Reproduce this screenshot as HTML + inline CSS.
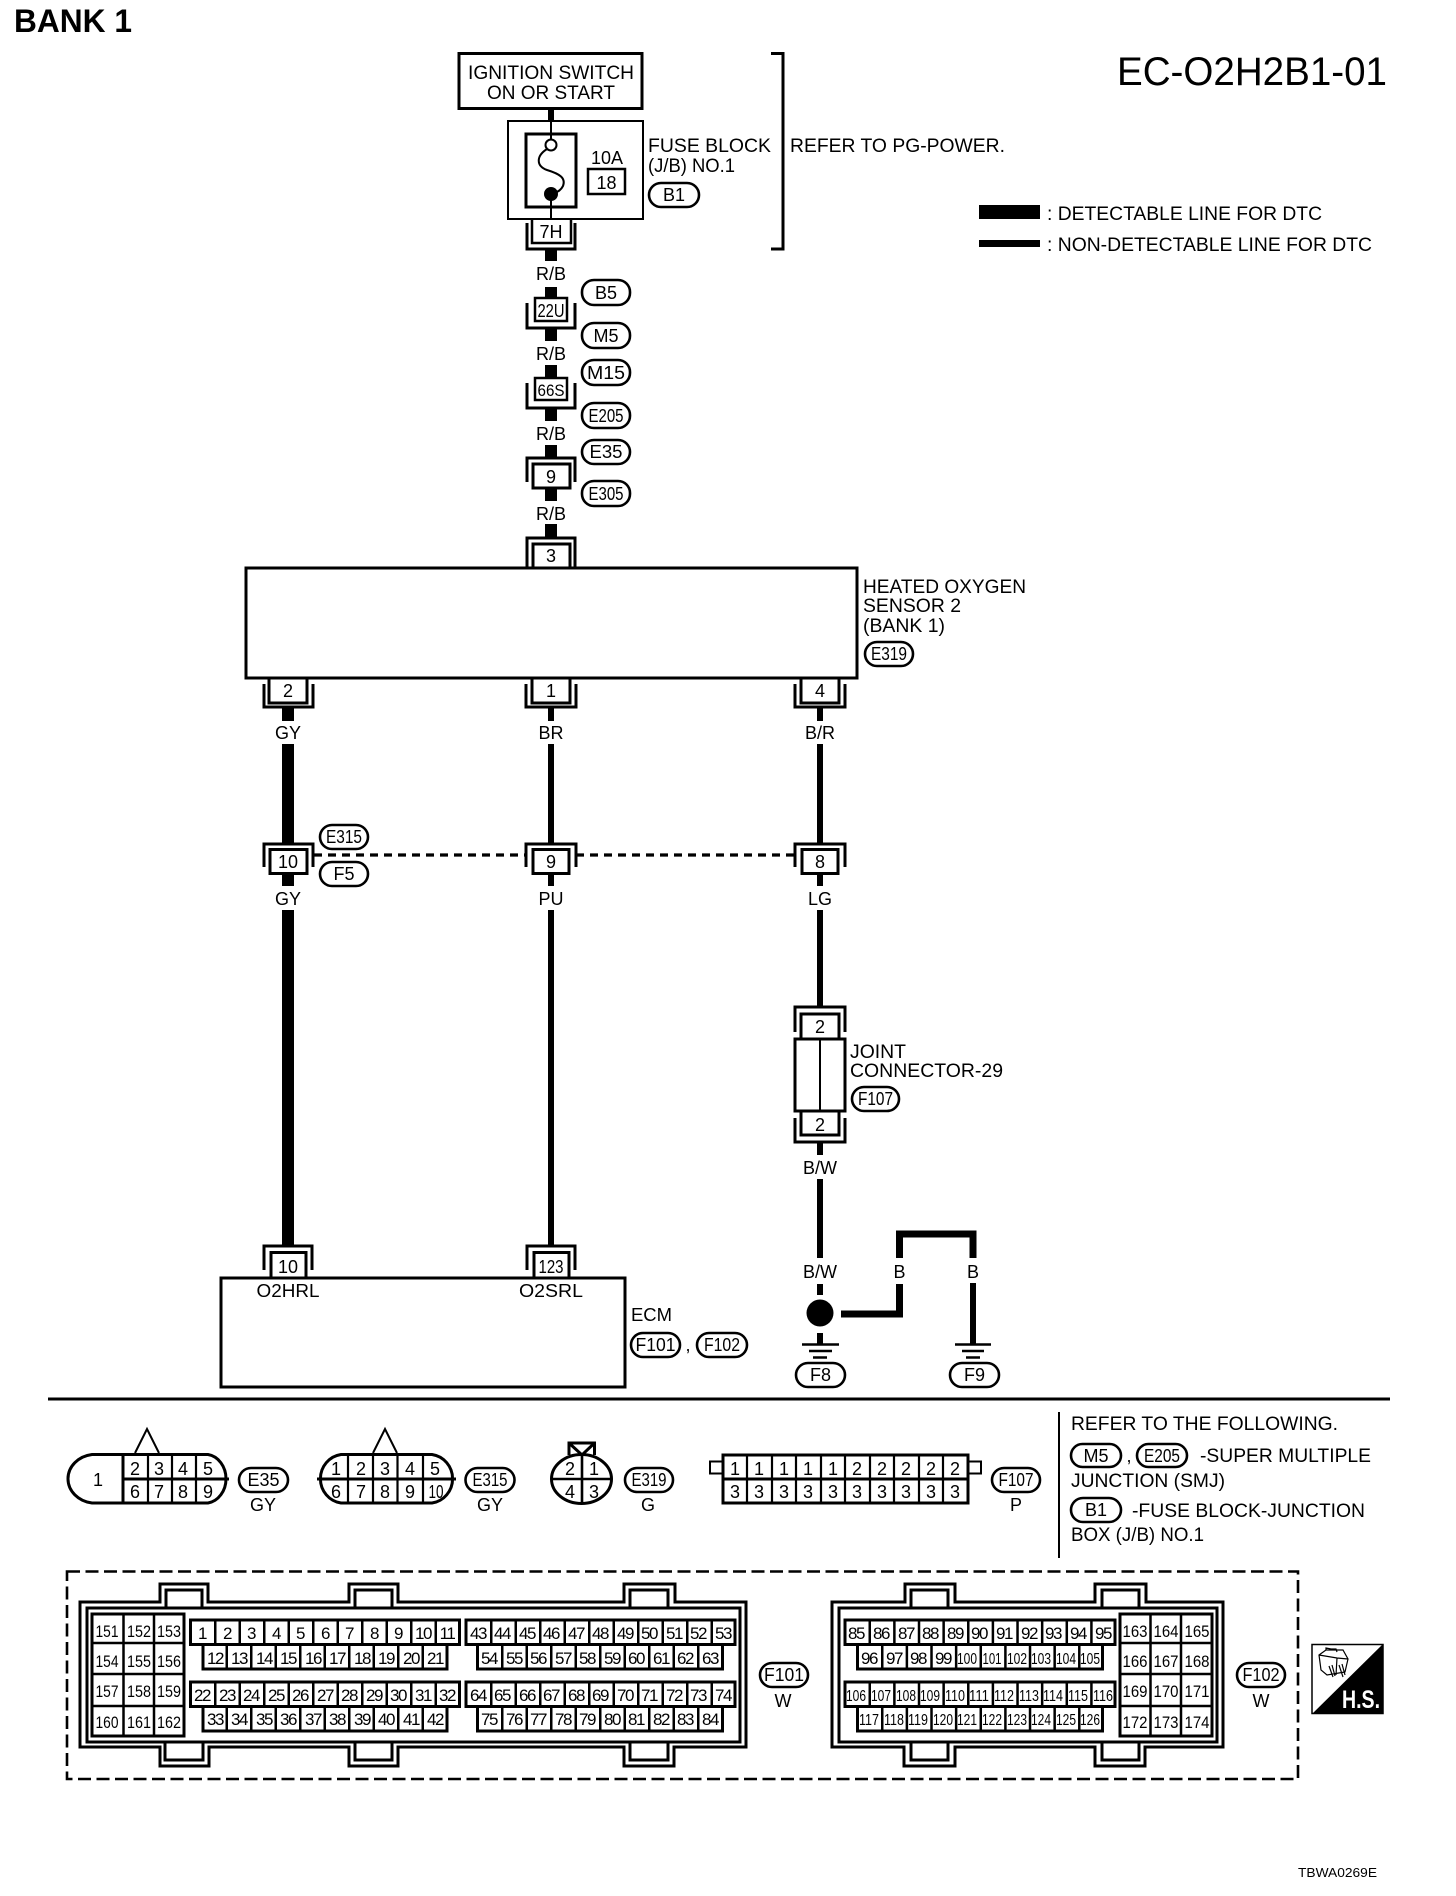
<!DOCTYPE html>
<html><head><meta charset="utf-8"><title>EC-O2H2B1-01</title>
<style>
html,body{margin:0;padding:0;background:#fff}
svg{display:block}
text{font-family:"Liberation Sans",Arial,sans-serif;fill:#000;stroke:none}
.c{text-anchor:middle}
.p text{font-size:17px;text-anchor:middle;letter-spacing:-1.400px}
.n text{font-size:18px;text-anchor:middle}
.t3 text{font-size:16px;text-anchor:middle}
.b3 text{font-size:17px;text-anchor:middle}
.s{fill:none;stroke:#000;stroke-width:3}
.pill{fill:#fff;stroke:#000;stroke-width:2.600}
</style></head><body>
<svg width="1456" height="1896" viewBox="0 0 1456 1896" xmlns="http://www.w3.org/2000/svg" font-size="18">
<rect width="1456" height="1896" fill="#fff"/>

<text x="14" y="32" font-size="32" font-weight="bold" textLength="118" lengthAdjust="spacingAndGlyphs">BANK 1</text>
<text x="1117" y="85" font-size="40" textLength="270" lengthAdjust="spacingAndGlyphs">EC-O2H2B1-01</text>

<!-- ignition -->
<rect x="459" y="53.500" width="183" height="55" class="s"/>
<text x="551" y="79" class="c" font-size="19" textLength="166" lengthAdjust="spacingAndGlyphs">IGNITION SWITCH</text>
<text x="551" y="99" class="c" font-size="19" textLength="128" lengthAdjust="spacingAndGlyphs">ON OR START</text>
<rect x="548" y="109" width="6" height="12"/>

<!-- fuse block -->
<rect x="508" y="121" width="135" height="98" fill="none" stroke="#000" stroke-width="2"/>
<rect x="526" y="134" width="50" height="73" class="s"/>
<path d="M551 121V140M551 194V219" fill="none" stroke="#000" stroke-width="2"/>
<circle cx="551" cy="145" r="5.500" fill="#fff" stroke="#000" stroke-width="2"/>
<circle cx="551" cy="194" r="7"/>
<path d="M547 149C536 156 536 166 547 170C560 174 566 178 563 186C561 190 558 192 554 193" fill="none" stroke="#000" stroke-width="2"/>
<text x="607" y="164" class="c">10A</text>
<rect x="588" y="169" width="37" height="25" class="s" style="stroke-width:2.500"/>
<text x="606.500" y="189" class="c">18</text>
<text x="648" y="152" font-size="19" textLength="123" lengthAdjust="spacingAndGlyphs">FUSE BLOCK</text>
<text x="648" y="172" font-size="19" textLength="87" lengthAdjust="spacingAndGlyphs">(J/B) NO.1</text>
<rect x="649" y="183" width="50" height="24" rx="12" class="pill"/><text x="674" y="201" class="c">B1</text>
<text x="790" y="152" font-size="19" textLength="215" lengthAdjust="spacingAndGlyphs">REFER TO PG-POWER.</text>
<path d="M771 53.500H783V249H771" fill="none" stroke="#000" stroke-width="3"/>

<!-- legend -->
<rect x="979" y="205" width="61" height="14"/>
<rect x="979" y="240" width="61" height="7"/>
<text x="1047" y="220" font-size="19" textLength="275" lengthAdjust="spacingAndGlyphs">: DETECTABLE LINE FOR DTC</text>
<text x="1047" y="251" font-size="19" textLength="325" lengthAdjust="spacingAndGlyphs">: NON-DETECTABLE LINE FOR DTC</text>

<!-- top chain wires -->
<path d="M551 250V261M551 287V298M551 328V341M551 365V377M551 409V421M551 445V457M551 488V501M551 524V537" stroke="#000" stroke-width="12" fill="none"/>
<text x="551" y="280" class="c">R/B</text>
<text x="551" y="360" class="c">R/B</text>
<text x="551" y="440" class="c">R/B</text>
<text x="551" y="520" class="c">R/B</text>

<!-- 7H -->
<path d="M532 219V243H571V219" class="s" style="stroke-width:2.500"/>
<path d="M527 223V249H575V223" class="s"/>
<text x="551" y="238" class="c">7H</text>
<!-- 22U -->
<rect x="535" y="298" width="32" height="23" class="s" style="stroke-width:2.500"/>
<path d="M527 303V328H575V303" class="s"/>
<text x="551" y="317" class="c" font-size="18" textLength="27" lengthAdjust="spacingAndGlyphs">22U</text>
<!-- 66S -->
<rect x="535" y="378" width="32" height="22" class="s" style="stroke-width:2.500"/>
<path d="M527 383V408H575V383" class="s"/>
<text x="551" y="396" class="c" font-size="17" textLength="27" lengthAdjust="spacingAndGlyphs">66S</text>
<!-- 9 -->
<rect x="533" y="464" width="37" height="24" class="s"/>
<path d="M527 482V458H575V482" class="s"/>
<text x="551" y="483" class="c">9</text>
<!-- 3 -->
<path d="M533 567V544H570V567" class="s"/>
<path d="M527 567V538H575V567" class="s"/>
<text x="551" y="562" class="c">3</text>

<rect x="582" y="280" width="48" height="25" rx="12" class="pill"/><text x="606" y="299" class="c">B5</text>
<rect x="582" y="323" width="48" height="25" rx="12" class="pill"/><text x="606" y="342" class="c">M5</text>
<rect x="582" y="360" width="48" height="25" rx="12" class="pill"/><text x="606" y="379" class="c" textLength="38" lengthAdjust="spacingAndGlyphs">M15</text>
<rect x="582" y="403" width="48" height="25" rx="12" class="pill"/><text x="606" y="422" class="c" textLength="35" lengthAdjust="spacingAndGlyphs">E205</text>
<rect x="582" y="440" width="48" height="24" rx="12" class="pill"/><text x="606" y="458" class="c" textLength="33" lengthAdjust="spacingAndGlyphs">E35</text>
<rect x="582" y="481" width="48" height="25" rx="12" class="pill"/><text x="606" y="500" class="c" textLength="35" lengthAdjust="spacingAndGlyphs">E305</text>

<!-- sensor -->
<rect x="246" y="568" width="611" height="110" class="s"/>
<text x="863" y="593" font-size="19" textLength="163" lengthAdjust="spacingAndGlyphs">HEATED OXYGEN</text>
<text x="863" y="612" font-size="19" textLength="98" lengthAdjust="spacingAndGlyphs">SENSOR 2</text>
<text x="863" y="632" font-size="19" textLength="82" lengthAdjust="spacingAndGlyphs">(BANK 1)</text>
<rect x="865" y="642" width="48" height="24" rx="12" class="pill"/><text x="889" y="660" class="c" textLength="36" lengthAdjust="spacingAndGlyphs">E319</text>

<!-- sensor pins -->
<path d="M269 678V703H307V678M264 684V707H313V684" class="s"/><text x="288" y="697" class="c">2</text>
<path d="M532 678V703H570V678M526 684V707H576V684" class="s"/><text x="551" y="697" class="c">1</text>
<path d="M801 678V703H839V678M795 684V707H845V684" class="s"/><text x="820" y="697" class="c">4</text>

<text x="288" y="739" class="c">GY</text>
<text x="551" y="739" class="c">BR</text>
<text x="820" y="739" class="c">B/R</text>

<path d="M288 708V721M288 744V843M288 874V886M288 910V1245" stroke="#000" stroke-width="12" fill="none"/>
<path d="M551 708V721M551 744V843M551 874V886M551 910V1245" stroke="#000" stroke-width="6" fill="none"/>
<path d="M820 708V721M820 744V843M820 874V886M820 910V1006M820 1143V1155M820 1179V1258M820 1284V1295" stroke="#000" stroke-width="6" fill="none"/>

<!-- row E315 -->
<path d="M264 867V844H313V867" class="s"/><rect x="270" y="849.500" width="37" height="24" class="s" fill="#fff"/><text x="288" y="868" class="c">10</text>
<path d="M526 867V844H576V867" class="s"/><rect x="533" y="849.500" width="36" height="24" class="s" fill="#fff"/><text x="551" y="868" class="c">9</text>
<path d="M795 867V844H845V867" class="s"/><rect x="802" y="849.500" width="36" height="24" class="s" fill="#fff"/><text x="820" y="868" class="c">8</text>
<path d="M314 855H526M576 855H795" stroke="#000" stroke-width="3.200" stroke-dasharray="8 6" fill="none"/>
<rect x="320" y="825" width="48" height="24" rx="12" class="pill"/><text x="344" y="843" class="c" textLength="36" lengthAdjust="spacingAndGlyphs">E315</text>
<rect x="320" y="862" width="48" height="24" rx="12" class="pill"/><text x="344" y="880" class="c">F5</text>
<text x="288" y="905" class="c">GY</text>
<text x="551" y="905" class="c">PU</text>
<text x="820" y="905" class="c">LG</text>

<!-- joint -->
<path d="M795 1032V1007H845V1032" class="s"/>
<path d="M801 1038V1014H839V1038" class="s"/>
<rect x="795" y="1039" width="50" height="72" class="s" fill="#fff"/>
<path d="M820 1039V1111" stroke="#000" stroke-width="2"/>
<path d="M801 1112V1135H839V1112" class="s"/>
<path d="M795 1118V1142H845V1118" class="s"/>
<text x="820" y="1033" class="c">2</text>
<text x="820" y="1131" class="c">2</text>
<text x="850" y="1058" font-size="19" textLength="56" lengthAdjust="spacingAndGlyphs">JOINT</text>
<text x="850" y="1077" font-size="19" textLength="153" lengthAdjust="spacingAndGlyphs">CONNECTOR-29</text>
<rect x="852" y="1087" width="47" height="24" rx="12" class="pill"/><text x="875.500" y="1105" class="c" textLength="35" lengthAdjust="spacingAndGlyphs">F107</text>
<text x="820" y="1174" class="c">B/W</text>
<text x="820" y="1278" class="c">B/W</text>

<!-- ground -->
<ellipse cx="820" cy="1313" rx="13.500" ry="13.500"/>
<path d="M841 1314H899.500V1284M899.500 1258V1234H973V1258" fill="none" stroke="#000" stroke-width="7"/>
<path d="M973 1283V1344" stroke="#000" stroke-width="6"/>
<text x="899.500" y="1278" class="c">B</text>
<text x="973" y="1278" class="c">B</text>
<path d="M820 1333V1344" stroke="#000" stroke-width="6"/>
<path d="M802 1344.500H839M809 1351H832M813 1357.500H827M955 1344.500H991M962 1351H984M966 1357.500H980" stroke="#000" stroke-width="2.600"/>
<rect x="796" y="1363" width="49" height="24" rx="12" class="pill"/><text x="820.500" y="1381" class="c">F8</text>
<rect x="950" y="1363" width="49" height="24" rx="12" class="pill"/><text x="974.500" y="1381" class="c">F9</text>

<!-- ECM -->
<path d="M271 1277V1252.500H306V1277M264 1270V1246H312V1270" class="s"/><text x="288" y="1273" class="c">10</text>
<path d="M534 1277V1252.500H569V1277M527 1270V1246H575V1270" class="s"/><text x="551" y="1273" class="c" textLength="25" lengthAdjust="spacingAndGlyphs">123</text>
<rect x="221" y="1278" width="404" height="109" class="s"/>
<text x="288" y="1297" class="c" textLength="63" lengthAdjust="spacingAndGlyphs">O2HRL</text>
<text x="551" y="1297" class="c" textLength="64" lengthAdjust="spacingAndGlyphs">O2SRL</text>
<text x="631" y="1321" textLength="41" lengthAdjust="spacingAndGlyphs">ECM</text>
<rect x="631" y="1333" width="49" height="24" rx="12" class="pill"/><text x="655.500" y="1351" class="c" textLength="40" lengthAdjust="spacingAndGlyphs">F101</text>
<text x="688" y="1351" class="c">,</text>
<rect x="697" y="1333" width="50" height="24" rx="12" class="pill"/><text x="722" y="1351" class="c" textLength="36" lengthAdjust="spacingAndGlyphs">F102</text>

<path d="M48 1399H1390" stroke="#000" stroke-width="3"/>
<path d="M1059 1412V1558" stroke="#000" stroke-width="2"/>

<!-- connector E35 -->
<path d="M135 1453L147 1429L159 1453" fill="none" stroke="#000" stroke-width="2"/>
<path d="M92 1454.500H208A21 24.500 0 0 1 208 1503H92A28 24.500 0 0 1 92 1454.500Z" class="s"/>
<path d="M123 1454V1503M123 1479H229" class="s"/>
<path d="M148 1454V1503M172 1454V1503M196 1454V1503" fill="none" stroke="#000" stroke-width="2.200"/>
<g class="n">
<text x="98" y="1486">1</text>
<text x="135" y="1475">2</text><text x="159" y="1475">3</text><text x="183" y="1475">4</text><text x="208" y="1475">5</text>
<text x="135" y="1498">6</text><text x="159" y="1498">7</text><text x="183" y="1498">8</text><text x="208" y="1498">9</text>
</g>
<rect x="239" y="1468" width="49" height="24" rx="12" class="pill"/><text x="263.500" y="1486" class="c" textLength="32" lengthAdjust="spacingAndGlyphs">E35</text>
<text x="263" y="1511" class="c">GY</text>

<!-- connector E315 -->
<path d="M373 1453L385 1429L397 1453" fill="none" stroke="#000" stroke-width="2"/>
<path d="M341 1454.500H432A24 24.500 0 0 1 432 1503H341A24 24.500 0 0 1 341 1454.500Z" class="s"/>
<path d="M317 1479H456" class="s"/>
<path d="M348 1454V1503M373 1454V1503M397.500 1454V1503M423 1454V1503" fill="none" stroke="#000" stroke-width="2.200"/>
<g class="n">
<text x="336" y="1475">1</text><text x="361" y="1475">2</text><text x="385" y="1475">3</text><text x="410" y="1475">4</text><text x="435" y="1475">5</text>
<text x="336" y="1498">6</text><text x="361" y="1498">7</text><text x="385" y="1498">8</text><text x="410" y="1498">9</text><text x="436" y="1498" textLength="15" lengthAdjust="spacingAndGlyphs">10</text>
</g>
<rect x="465.500" y="1468" width="49" height="24" rx="12" class="pill"/><text x="490" y="1486" class="c" textLength="35" lengthAdjust="spacingAndGlyphs">E315</text>
<text x="490" y="1511" class="c">GY</text>

<!-- connector E319 -->
<path d="M569 1455V1443H594.500V1455M569 1443L582 1455L594.500 1443" fill="none" stroke="#000" stroke-width="3"/>
<ellipse cx="581.500" cy="1479" rx="30" ry="24.500" class="s"/>
<path d="M551 1479H612M582 1454V1503" class="s" style="stroke-width:2.600"/>
<g class="n">
<text x="570" y="1475">2</text><text x="594" y="1475">1</text><text x="570" y="1498">4</text><text x="594" y="1498">3</text>
</g>
<rect x="625" y="1468" width="48" height="24" rx="12" class="pill"/><text x="649" y="1486" class="c" textLength="35" lengthAdjust="spacingAndGlyphs">E319</text>
<text x="648" y="1511" class="c">G</text>

<!-- connector F107 -->
<rect x="710" y="1461.500" width="13" height="12" class="s" style="stroke-width:2"/>
<rect x="968" y="1461.500" width="13" height="12" class="s" style="stroke-width:2"/>
<rect x="723" y="1455" width="245" height="48" class="s" fill="#fff"/>
<path d="M723 1479H968" class="s"/>
<path d="M747 1454V1503M772 1454V1503M796 1454V1503M821 1454V1503M845 1454V1503M870 1454V1503M894 1454V1503M919 1454V1503M943 1454V1503" fill="none" stroke="#000" stroke-width="2.200"/>
<g class="n">
<text x="735" y="1475">1</text><text x="759" y="1475">1</text><text x="784" y="1475">1</text><text x="808" y="1475">1</text><text x="833" y="1475">1</text><text x="857" y="1475">2</text><text x="882" y="1475">2</text><text x="906" y="1475">2</text><text x="931" y="1475">2</text><text x="955" y="1475">2</text>
<text x="735" y="1498">3</text><text x="759" y="1498">3</text><text x="784" y="1498">3</text><text x="808" y="1498">3</text><text x="833" y="1498">3</text><text x="857" y="1498">3</text><text x="882" y="1498">3</text><text x="906" y="1498">3</text><text x="931" y="1498">3</text><text x="955" y="1498">3</text>
</g>
<rect x="992" y="1468" width="48" height="24" rx="12" class="pill"/><text x="1016" y="1486" class="c" textLength="35" lengthAdjust="spacingAndGlyphs">F107</text>
<text x="1016" y="1511" class="c">P</text>

<!-- refer note -->
<text x="1071" y="1430" font-size="19" textLength="267" lengthAdjust="spacingAndGlyphs">REFER TO THE FOLLOWING.</text>
<rect x="1071" y="1444" width="50" height="23" rx="11.500" class="pill"/><text x="1096" y="1462" class="c">M5</text>
<text x="1129" y="1462" class="c">,</text>
<rect x="1137" y="1444" width="50" height="23" rx="11.500" class="pill"/><text x="1162" y="1462" class="c" textLength="36" lengthAdjust="spacingAndGlyphs">E205</text>
<text x="1200" y="1462" font-size="19" textLength="171" lengthAdjust="spacingAndGlyphs">-SUPER MULTIPLE</text>
<text x="1071" y="1487" font-size="19" textLength="154" lengthAdjust="spacingAndGlyphs">JUNCTION (SMJ)</text>
<rect x="1071" y="1498" width="50" height="24" rx="12" class="pill"/><text x="1096" y="1516" class="c">B1</text>
<text x="1132" y="1517" font-size="19" textLength="233" lengthAdjust="spacingAndGlyphs">-FUSE BLOCK-JUNCTION</text>
<text x="1071" y="1541" font-size="19" textLength="133" lengthAdjust="spacingAndGlyphs">BOX (J/B) NO.1</text>

<!-- dashed frame -->
<rect x="67" y="1571.500" width="1231" height="207.500" fill="none" stroke="#000" stroke-width="2.600" stroke-dasharray="13 5.500"/>

<!-- F101 shell -->
<path d="M80 1602H160V1584H208V1602H349V1584H398V1602H624V1584H675V1602H746V1747H674V1766H624V1747H398V1766H349V1747H209V1766H160V1747H80Z" class="s"/>
<path d="M87 1608H166V1590H202V1608H355V1590H392V1608H630V1590H668V1608H740V1742H668V1760H630V1742H392V1760H355V1742H203V1760H165V1742H87Z" class="s"/>
<path d="M87 1608H740M87 1742H740" class="s"/>

<!-- F101 pins: block -->
<rect x="92" y="1614" width="92" height="122" class="s"/>
<path d="M92 1643H184M92 1674H184M92 1706H184M123.500 1614V1736M154 1614V1736" class="s" style="stroke-width:2.500"/>
<g class="b3">
<text x="107" y="1637" textLength="23" lengthAdjust="spacingAndGlyphs">151</text><text x="139" y="1637" textLength="24" lengthAdjust="spacingAndGlyphs">152</text><text x="169" y="1637" textLength="24" lengthAdjust="spacingAndGlyphs">153</text>
<text x="107" y="1667" textLength="23" lengthAdjust="spacingAndGlyphs">154</text><text x="139" y="1667" textLength="24" lengthAdjust="spacingAndGlyphs">155</text><text x="169" y="1667" textLength="24" lengthAdjust="spacingAndGlyphs">156</text>
<text x="107" y="1697" textLength="23" lengthAdjust="spacingAndGlyphs">157</text><text x="139" y="1697" textLength="24" lengthAdjust="spacingAndGlyphs">158</text><text x="169" y="1697" textLength="24" lengthAdjust="spacingAndGlyphs">159</text>
<text x="107" y="1728" textLength="23" lengthAdjust="spacingAndGlyphs">160</text><text x="139" y="1728" textLength="24" lengthAdjust="spacingAndGlyphs">161</text><text x="169" y="1728" textLength="24" lengthAdjust="spacingAndGlyphs">162</text>
</g>

<!-- F101 cell grids -->
<g fill="none" stroke="#000">
<rect x="190.500" y="1620" width="269" height="24.500" stroke-width="3"/>
<rect x="203" y="1644.500" width="244" height="24.500" stroke-width="3"/>
<rect x="190.500" y="1682" width="269" height="24.500" stroke-width="3"/>
<rect x="203" y="1706.500" width="244" height="24.500" stroke-width="3"/>
<rect x="466" y="1620" width="269" height="24.500" stroke-width="3"/>
<rect x="477.500" y="1644.500" width="245" height="24.500" stroke-width="3"/>
<rect x="466" y="1682" width="269" height="24.500" stroke-width="3"/>
<rect x="477.500" y="1706.500" width="245" height="24.500" stroke-width="3"/>
<path d="M214 1632H460M225.500 1657H448M214 1694H460M225.500 1719H448M490 1632H736M501 1657H723M490 1694H736M501 1719H723" stroke-width="25" stroke-dasharray="2.500 22"/>
</g>
<g class="p">
<text x="202" y="1639">1</text><text x="227" y="1639">2</text><text x="251" y="1639">3</text><text x="276" y="1639">4</text><text x="300" y="1639">5</text><text x="325" y="1639">6</text><text x="349" y="1639">7</text><text x="374" y="1639">8</text><text x="398" y="1639">9</text><text x="423" y="1639">10</text><text x="447" y="1639">11</text>
<text x="215" y="1664">12</text><text x="239" y="1664">13</text><text x="264" y="1664">14</text><text x="288" y="1664">15</text><text x="313" y="1664">16</text><text x="337" y="1664">17</text><text x="362" y="1664">18</text><text x="386" y="1664">19</text><text x="411" y="1664">20</text><text x="435" y="1664">21</text>
<text x="202" y="1701">22</text><text x="227" y="1701">23</text><text x="251" y="1701">24</text><text x="276" y="1701">25</text><text x="300" y="1701">26</text><text x="325" y="1701">27</text><text x="349" y="1701">28</text><text x="374" y="1701">29</text><text x="398" y="1701">30</text><text x="423" y="1701">31</text><text x="447" y="1701">32</text>
<text x="215" y="1725">33</text><text x="239" y="1725">34</text><text x="264" y="1725">35</text><text x="288" y="1725">36</text><text x="313" y="1725">37</text><text x="337" y="1725">38</text><text x="362" y="1725">39</text><text x="386" y="1725">40</text><text x="411" y="1725">41</text><text x="435" y="1725">42</text>
<text x="478" y="1639">43</text><text x="502" y="1639">44</text><text x="527" y="1639">45</text><text x="551" y="1639">46</text><text x="576" y="1639">47</text><text x="600" y="1639">48</text><text x="625" y="1639">49</text><text x="649" y="1639">50</text><text x="674" y="1639">51</text><text x="698" y="1639">52</text><text x="723" y="1639">53</text>
<text x="489" y="1664">54</text><text x="514" y="1664">55</text><text x="538" y="1664">56</text><text x="563" y="1664">57</text><text x="587" y="1664">58</text><text x="612" y="1664">59</text><text x="636" y="1664">60</text><text x="661" y="1664">61</text><text x="685" y="1664">62</text><text x="710" y="1664">63</text>
<text x="478" y="1701">64</text><text x="502" y="1701">65</text><text x="527" y="1701">66</text><text x="551" y="1701">67</text><text x="576" y="1701">68</text><text x="600" y="1701">69</text><text x="625" y="1701">70</text><text x="649" y="1701">71</text><text x="674" y="1701">72</text><text x="698" y="1701">73</text><text x="723" y="1701">74</text>
<text x="489" y="1725">75</text><text x="514" y="1725">76</text><text x="538" y="1725">77</text><text x="563" y="1725">78</text><text x="587" y="1725">79</text><text x="612" y="1725">80</text><text x="636" y="1725">81</text><text x="661" y="1725">82</text><text x="685" y="1725">83</text><text x="710" y="1725">84</text>
</g>

<rect x="760" y="1663" width="48" height="24" rx="12" class="pill"/><text x="784" y="1681" class="c" textLength="40" lengthAdjust="spacingAndGlyphs">F101</text>
<text x="783" y="1707" class="c">W</text>

<!-- F102 shell -->
<path d="M832 1602H905V1584H955V1602H1095V1584H1146V1602H1223V1747H1145V1766H1095V1747H955V1766H904V1747H832Z" class="s"/>
<path d="M839 1608H911V1590H948V1608H1102V1590H1139V1608H1217V1742H1139V1760H1102V1742H948V1760H911V1742H839Z" class="s"/>
<path d="M839 1608H1217M839 1742H1217" class="s"/>

<rect x="1120" y="1614" width="92" height="122" class="s"/>
<path d="M1120 1643H1212M1120 1674H1212M1120 1706H1212M1150.500 1614V1736M1181 1614V1736" class="s" style="stroke-width:2.500"/>
<g class="b3">
<text x="1135" y="1637" textLength="25" lengthAdjust="spacingAndGlyphs">163</text><text x="1166" y="1637" textLength="25" lengthAdjust="spacingAndGlyphs">164</text><text x="1197" y="1637" textLength="25" lengthAdjust="spacingAndGlyphs">165</text>
<text x="1135" y="1667" textLength="25" lengthAdjust="spacingAndGlyphs">166</text><text x="1166" y="1667" textLength="25" lengthAdjust="spacingAndGlyphs">167</text><text x="1197" y="1667" textLength="25" lengthAdjust="spacingAndGlyphs">168</text>
<text x="1135" y="1697" textLength="25" lengthAdjust="spacingAndGlyphs">169</text><text x="1166" y="1697" textLength="25" lengthAdjust="spacingAndGlyphs">170</text><text x="1197" y="1697" textLength="25" lengthAdjust="spacingAndGlyphs">171</text>
<text x="1135" y="1728" textLength="25" lengthAdjust="spacingAndGlyphs">172</text><text x="1166" y="1728" textLength="25" lengthAdjust="spacingAndGlyphs">173</text><text x="1197" y="1728" textLength="25" lengthAdjust="spacingAndGlyphs">174</text>
</g>

<g fill="none" stroke="#000">
<rect x="845" y="1620" width="270" height="24.500" stroke-width="3"/>
<rect x="857.500" y="1644.500" width="245" height="24.500" stroke-width="3"/>
<rect x="845" y="1682" width="270" height="24.500" stroke-width="3"/>
<rect x="857.500" y="1706.500" width="245" height="24.500" stroke-width="3"/>
<path d="M868.500 1632H1116M881 1657H1103M868.500 1694H1116M881 1719H1103" stroke-width="25" stroke-dasharray="2.500 22.130"/>
</g>
<g class="p">
<text x="856" y="1639">85</text><text x="881" y="1639">86</text><text x="906" y="1639">87</text><text x="930" y="1639">88</text><text x="955" y="1639">89</text><text x="979" y="1639">90</text><text x="1004" y="1639">91</text><text x="1029" y="1639">92</text><text x="1053" y="1639">93</text><text x="1078" y="1639">94</text><text x="1103" y="1639">95</text>
<text x="869" y="1664">96</text><text x="894" y="1664">97</text><text x="918" y="1664">98</text><text x="943" y="1664">99</text>
</g>
<g class="t3">
<text x="967" y="1664" textLength="20" lengthAdjust="spacingAndGlyphs">100</text><text x="992" y="1664" textLength="19" lengthAdjust="spacingAndGlyphs">101</text><text x="1017" y="1664" textLength="20" lengthAdjust="spacingAndGlyphs">102</text><text x="1041" y="1664" textLength="20" lengthAdjust="spacingAndGlyphs">103</text><text x="1066" y="1664" textLength="20" lengthAdjust="spacingAndGlyphs">104</text><text x="1090" y="1664" textLength="20" lengthAdjust="spacingAndGlyphs">105</text>
<text x="856" y="1701" textLength="20" lengthAdjust="spacingAndGlyphs">106</text><text x="881" y="1701" textLength="20" lengthAdjust="spacingAndGlyphs">107</text><text x="906" y="1701" textLength="20" lengthAdjust="spacingAndGlyphs">108</text><text x="930" y="1701" textLength="20" lengthAdjust="spacingAndGlyphs">109</text><text x="955" y="1701" textLength="20" lengthAdjust="spacingAndGlyphs">110</text><text x="979" y="1701" textLength="20" lengthAdjust="spacingAndGlyphs">111</text><text x="1004" y="1701" textLength="20" lengthAdjust="spacingAndGlyphs">112</text><text x="1029" y="1701" textLength="20" lengthAdjust="spacingAndGlyphs">113</text><text x="1053" y="1701" textLength="20" lengthAdjust="spacingAndGlyphs">114</text><text x="1078" y="1701" textLength="20" lengthAdjust="spacingAndGlyphs">115</text><text x="1103" y="1701" textLength="20" lengthAdjust="spacingAndGlyphs">116</text>
<text x="869" y="1725" textLength="20" lengthAdjust="spacingAndGlyphs">117</text><text x="894" y="1725" textLength="20" lengthAdjust="spacingAndGlyphs">118</text><text x="918" y="1725" textLength="20" lengthAdjust="spacingAndGlyphs">119</text><text x="943" y="1725" textLength="20" lengthAdjust="spacingAndGlyphs">120</text><text x="967" y="1725" textLength="20" lengthAdjust="spacingAndGlyphs">121</text><text x="992" y="1725" textLength="20" lengthAdjust="spacingAndGlyphs">122</text><text x="1017" y="1725" textLength="20" lengthAdjust="spacingAndGlyphs">123</text><text x="1041" y="1725" textLength="20" lengthAdjust="spacingAndGlyphs">124</text><text x="1066" y="1725" textLength="20" lengthAdjust="spacingAndGlyphs">125</text><text x="1090" y="1725" textLength="20" lengthAdjust="spacingAndGlyphs">126</text>
</g>

<rect x="1237" y="1663" width="48" height="24" rx="12" class="pill"/><text x="1261" y="1681" class="c" textLength="37" lengthAdjust="spacingAndGlyphs">F102</text>
<text x="1261" y="1707" class="c">W</text>

<!-- HS icon -->
<rect x="1312" y="1644.500" width="71" height="69" fill="#fff" stroke="#000" stroke-width="1.500"/>
<path d="M1383 1644L1312 1714H1383Z"/>
<text x="1361" y="1708" class="c" font-size="25" font-weight="bold" style="fill:#fff" textLength="38" lengthAdjust="spacingAndGlyphs">H.S.</text>
<path d="M1319 1655L1326 1650H1343L1348 1659L1345 1672L1327 1675L1321 1670ZM1326 1650V1648L1331 1649H1336L1337 1652M1319 1655L1337 1658L1348 1659M1337 1658L1336 1675M1329 1666L1333 1677M1332 1665L1335 1676M1339 1665L1343 1677M1342 1664L1345 1675" fill="none" stroke="#000" stroke-width="1.200"/>

<text x="1298" y="1877" font-size="13" textLength="79" lengthAdjust="spacingAndGlyphs">TBWA0269E</text>
</svg>
</body></html>
